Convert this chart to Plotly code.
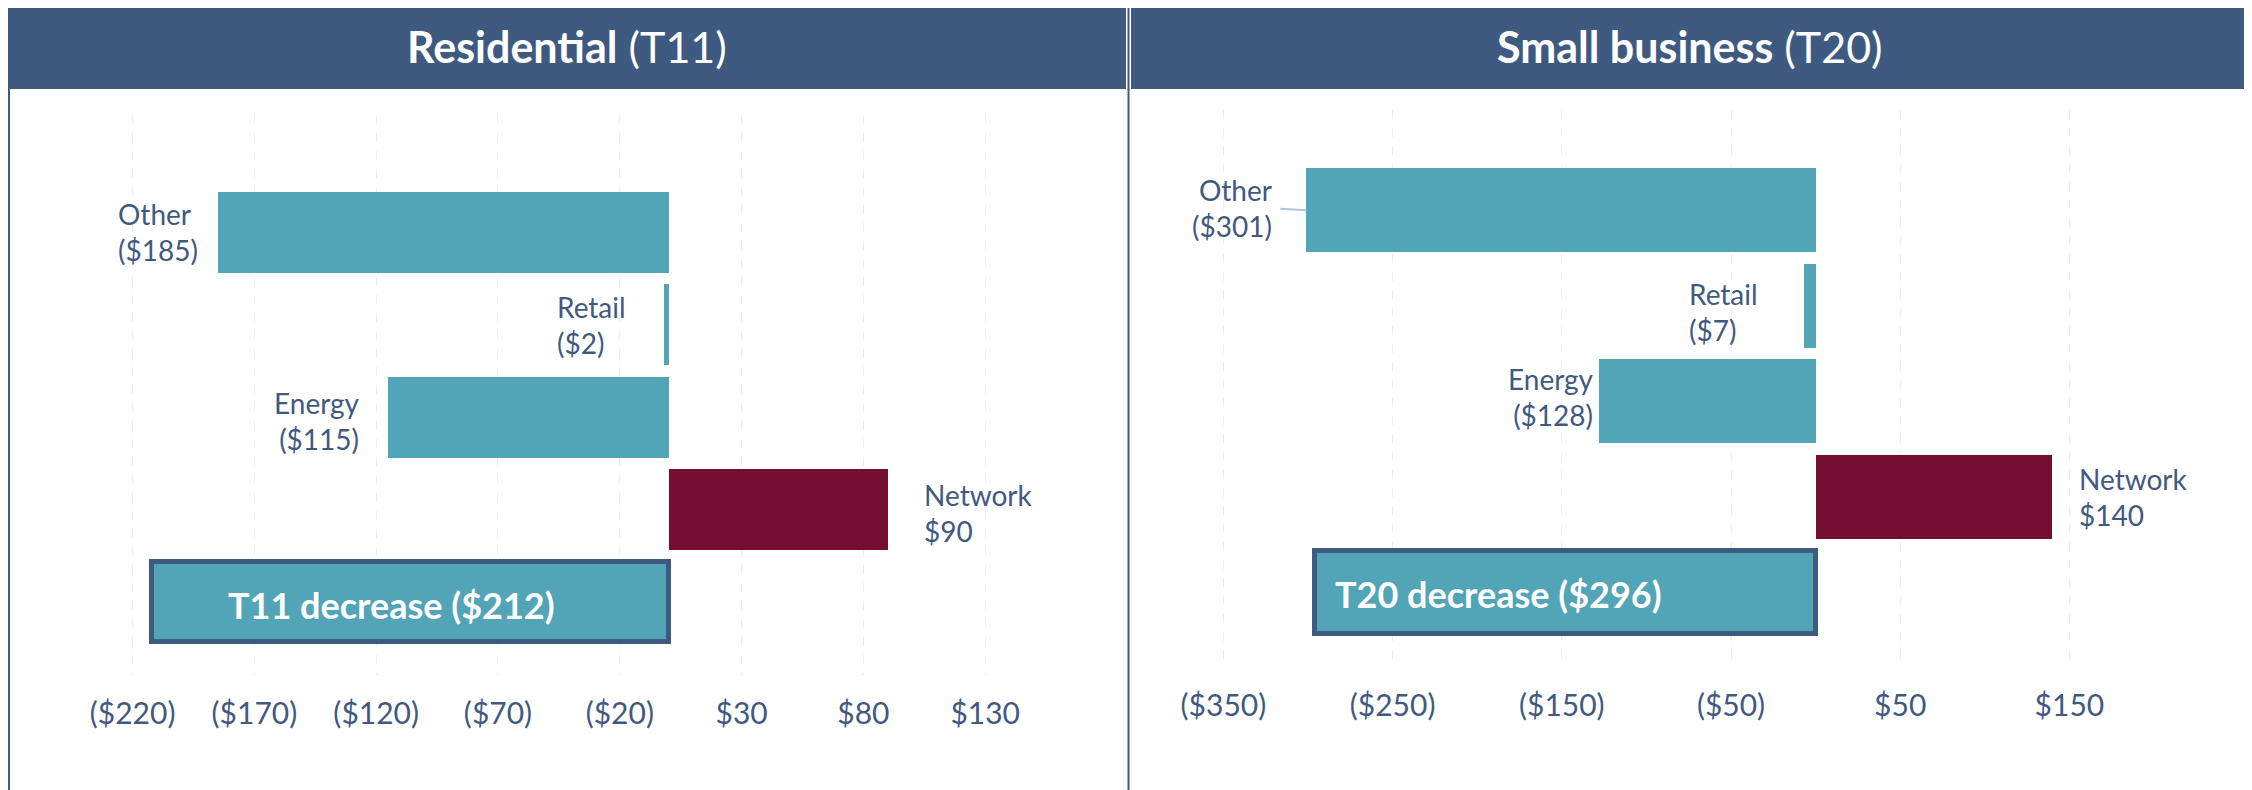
import plotly.graph_objects as go

# ---------------- data ----------------
categories = ["Other", "Retail", "Energy", "Network", "Total"]
res_values = [-185, -2, -115, 90, -212]
sb_values = [-301, -7, -128, 140, -296]
res_labels = ["Other<br>($185)", "Retail<br>($2)", "Energy<br>($115)", "Network<br>$90", "T11 decrease ($212)"]
sb_labels = ["Other<br>($301)", "Retail<br>($7)", "Energy<br>($128)", "Network<br>$140", "T20 decrease ($296)"]
res_ticks = [-220, -170, -120, -70, -20, 30, 80, 130]
sb_ticks = [-350, -250, -150, -50, 50, 150]
panel_titles = ["<b>Residential</b> (T11)", "<b>Small business</b> (T20)"]

# ---------------- style ----------------
W, H = 2252, 790
OFF = 8  # page body margin
FONT = "Lato"
HEADER = "#3E5A80"
TEXT = "#41597F"
TEAL = "#52A4B7"
MAROON = "#740F33"
GRID = "#ECEEF4"
bar_colors = [TEAL, TEAL, TEAL, MAROON, TEAL]
line_widths = [0, 0, 0, 0, 5]

def fmt(v):
    return f"(${-v})" if v < 0 else f"${v}"

def px_x(p):
    return (p - OFF) / W

def px_y(p):
    return 1 - (p - OFF) / H

# label placement styles: (xanchor, align, xshift, yshift)
res_label_style = [("right", "left", -18, 0), ("right", "left", -36, 0),
                   ("right", "right", -26, -4), ("left", "left", 34, -3),
                   ("left", "left", 74, -3)]
sb_label_style = [("right", "right", -32, -2), ("right", "left", -44, -6),
                  ("right", "right", -3, 4), ("left", "left", 25, 0),
                  ("left", "left", 18, -2)]

fig = go.Figure()
fig.add_trace(go.Bar(
    x=res_values, y=categories, orientation="h", width=0.875,
    marker=dict(color=bar_colors, line=dict(color=HEADER, width=line_widths)),
    xaxis="x", yaxis="y", showlegend=False, hoverinfo="skip"))
fig.add_trace(go.Bar(
    x=sb_values, y=categories, orientation="h", width=0.878,
    marker=dict(color=bar_colors, line=dict(color=HEADER, width=line_widths)),
    xaxis="x2", yaxis="y2", showlegend=False, hoverinfo="skip"))

annotations = []
for i, (cat, v, lab) in enumerate(zip(categories, res_values, res_labels)):
    xa, al, xs, ys = res_label_style[i]
    if cat == "Total":
        annotations.append(dict(x=v, y=cat, xref="x", yref="y", text=lab, showarrow=False,
                                xanchor=xa, align=al, xshift=xs, yshift=ys,
                                font=dict(family=FONT, size=36, color="white", weight="bold")))
    else:
        annotations.append(dict(x=v, y=cat, xref="x", yref="y", text=lab, showarrow=False,
                                xanchor=xa, align=al, xshift=xs, yshift=ys,
                                font=dict(family=FONT, size=28, color=TEXT)))
for i, (cat, v, lab) in enumerate(zip(categories, sb_values, sb_labels)):
    xa, al, xs, ys = sb_label_style[i]
    if cat == "Total":
        annotations.append(dict(x=v, y=cat, xref="x2", yref="y2", text=lab, showarrow=False,
                                xanchor=xa, align=al, xshift=xs, yshift=ys,
                                font=dict(family=FONT, size=36, color="white", weight="bold")))
    elif cat == "Other":
        annotations.append(dict(x=v, y=cat, xref="x2", yref="y2", text=lab, showarrow=True,
                                arrowhead=0, arrowwidth=2, arrowcolor="#B3C3DA",
                                ax=xs, ay=ys, xanchor=xa, align=al, standoff=0, startstandoff=6,
                                font=dict(family=FONT, size=28, color=TEXT)))
    else:
        annotations.append(dict(x=v, y=cat, xref="x2", yref="y2", text=lab, showarrow=False,
                                xanchor=xa, align=al, xshift=xs, yshift=ys,
                                font=dict(family=FONT, size=28, color=TEXT)))

# panel titles
for t, (x0, x1) in zip(panel_titles, [(8, 1126), (1131, 2249)]):
    annotations.append(dict(x=px_x((x0 + x1) / 2), y=px_y(46), xref="paper", yref="paper",
                            text=t, showarrow=False, xanchor="center", yanchor="middle",
                            font=dict(family=FONT, size=43, color="white")))

shapes = []
for x0, x1 in [(8, 1126), (1131, 2249)]:
    shapes.append(dict(type="rect", xref="paper", yref="paper", x0=px_x(x0), x1=px_x(x1),
                       y0=px_y(89), y1=px_y(3), fillcolor=HEADER, line=dict(width=0), layer="below"))
for xv in [9, 1128.5, 2249]:
    shapes.append(dict(type="line", xref="paper", yref="paper", x0=px_x(xv), x1=px_x(xv),
                       y0=-0.05, y1=px_y(3), line=dict(color=HEADER, width=2)))

# axes geometry (pixel-calibrated)
res_zero, res_scale = 668.5, 2.436
sb_zero, sb_scale = 1815.6, 1.692
res_px = (60, 1100)
sb_px = (1160, 2220)

tick_font = dict(family=FONT, size=30, color=TEXT)

fig.update_layout(
    width=W, height=H,
    margin=dict(l=0, r=0, t=0, b=0),
    paper_bgcolor="white", plot_bgcolor="white",
    bargap=0,
    annotations=annotations,
    shapes=shapes,
    xaxis=dict(domain=[px_x(res_px[0]), px_x(res_px[1])],
               range=[(res_px[0] - res_zero) / res_scale, (res_px[1] - res_zero) / res_scale],
               tickvals=res_ticks, ticktext=[fmt(v) for v in res_ticks],
               tickfont=tick_font, showgrid=True, gridcolor=GRID, griddash="dash", gridwidth=1,
               zeroline=False, showline=False, ticks="", ticklabelstandoff=18, anchor="y"),
    yaxis=dict(domain=[px_y(675), px_y(115)], range=[4.79, -1.27], type="category",
               categoryorder="array", categoryarray=categories,
               showticklabels=False, showgrid=False, zeroline=False, anchor="x"),
    xaxis2=dict(domain=[px_x(sb_px[0]), px_x(sb_px[1])],
                range=[(sb_px[0] - sb_zero) / sb_scale, (sb_px[1] - sb_zero) / sb_scale],
                tickvals=sb_ticks, ticktext=[fmt(v) for v in sb_ticks],
                tickfont=tick_font, showgrid=True, gridcolor=GRID, griddash="dash", gridwidth=1,
                zeroline=False, showline=False, ticks="", ticklabelstandoff=18, anchor="y2"),
    yaxis2=dict(domain=[px_y(667), px_y(110)], range=[4.78, -1.05], type="category",
                categoryorder="array", categoryarray=categories,
                showticklabels=False, showgrid=False, zeroline=False, anchor="x2"),
)

fig.write_html("out.html")
